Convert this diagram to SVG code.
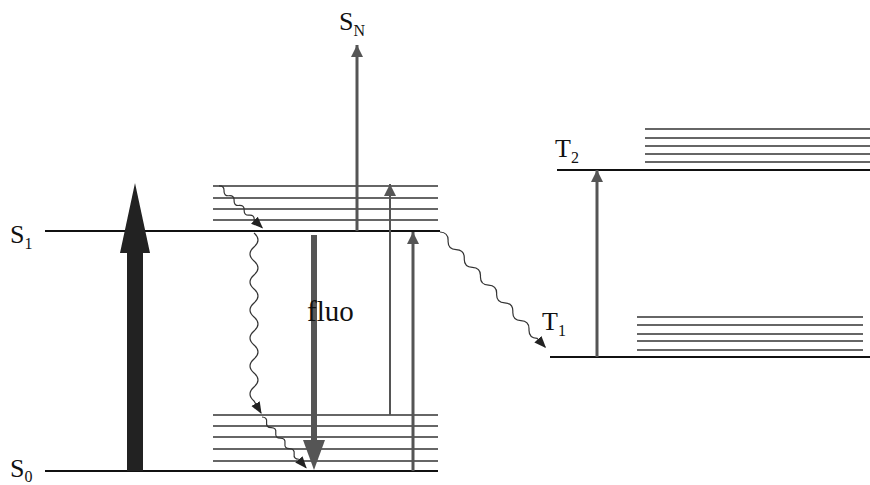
<svg xmlns="http://www.w3.org/2000/svg" width="870" height="485" viewBox="0 0 870 485">
<defs>
<style>
.lvl{stroke:#111;stroke-width:2;fill:none}
.vib{stroke:#333;stroke-width:1.3;fill:none}
.g{stroke:#555;fill:none}
.wave{stroke:#333;stroke-width:1.2;fill:none}
.lab{font-family:"Liberation Serif",serif;font-size:26px;fill:#111}
.sub{font-size:16px}
.fl{font-size:29px}
</style>
<marker id="ah" viewBox="0 0 10 10" refX="9" refY="5" markerWidth="12" markerHeight="12" markerUnits="userSpaceOnUse" orient="auto">
<path d="M0,1 L10,5 L0,9 Z" fill="#222"/>
</marker>
<marker id="gh" viewBox="0 0 10 10" refX="10" refY="5" markerWidth="18" markerHeight="12" markerUnits="userSpaceOnUse" orient="auto">
<path d="M0,0 L10,5 L0,10 Z" fill="#555"/>
</marker>
</defs>
<rect width="870" height="485" fill="#fff"/>
<g id="levels">
<g id="S0"><line class="lvl" x1="45" y1="471" x2="438" y2="471"/>
<line class="vib" x1="213" y1="415" x2="438" y2="415"/>
<line class="vib" x1="213" y1="426" x2="438" y2="426"/>
<line class="vib" x1="213" y1="437" x2="438" y2="437"/>
<line class="vib" x1="213" y1="449" x2="438" y2="449"/>
<line class="vib" x1="213" y1="461" x2="438" y2="461"/>
<text class="lab" x="10" y="477">S<tspan class="sub" dy="5">0</tspan></text></g>
<g id="S1"><line class="lvl" x1="45" y1="231" x2="440" y2="231"/>
<line class="vib" x1="213" y1="186" x2="438" y2="186"/>
<line class="vib" x1="213" y1="198" x2="438" y2="198"/>
<line class="vib" x1="213" y1="209" x2="438" y2="209"/>
<line class="vib" x1="213" y1="220" x2="438" y2="220"/>
<text class="lab" x="10" y="243">S<tspan class="sub" dy="6">1</tspan></text></g>
<g id="SN"><text class="lab" x="339" y="30">S<tspan class="sub" dy="6">N</tspan></text></g>
<g id="T1"><line class="lvl" x1="550" y1="357" x2="870" y2="357"/>
<line class="vib" x1="637" y1="317" x2="863" y2="317"/>
<line class="vib" x1="637" y1="325" x2="863" y2="325"/>
<line class="vib" x1="637" y1="334" x2="863" y2="334"/>
<line class="vib" x1="637" y1="341" x2="863" y2="341"/>
<line class="vib" x1="637" y1="350" x2="863" y2="350"/>
<text class="lab" x="542" y="330">T<tspan class="sub" dy="6">1</tspan></text></g>
<g id="T2"><line class="lvl" x1="557" y1="170" x2="870" y2="170"/>
<line class="vib" x1="645" y1="129" x2="870" y2="129"/>
<line class="vib" x1="645" y1="138" x2="870" y2="138"/>
<line class="vib" x1="645" y1="146" x2="870" y2="146"/>
<line class="vib" x1="645" y1="154" x2="870" y2="154"/>
<line class="vib" x1="645" y1="162" x2="870" y2="162"/>
<text class="lab" x="555" y="157">T<tspan class="sub" dy="6">2</tspan></text></g>
</g>
<g id="connectors">
<g id="excitation"><rect x="127" y="250" width="16" height="221" fill="#222"/><path d="M120,253 L135,183 L150,253 Z" fill="#222"/></g>
<g id="fluo"><line x1="314" y1="235" x2="314" y2="445" stroke="#555" stroke-width="6"/><path d="M303,440 L314,470 L325,440 Z" fill="#555"/>
<text class="lab fl" x="307" y="321">fluo</text></g>
<line class="g" stroke-width="3" x1="357" y1="231" x2="357" y2="45" marker-end="url(#gh)"/>
<line class="g" stroke-width="2" x1="390" y1="415" x2="390" y2="184" marker-end="url(#gh)"/>
<line class="g" stroke-width="3" x1="413" y1="471" x2="413" y2="232" marker-end="url(#gh)"/>
<line class="g" stroke-width="3" x1="597" y1="357" x2="597" y2="170" marker-end="url(#gh)"/>
<path class="wave" d="M254,233 q8,7 0,14 t0,14 t0,14 t0,14 t0,14 t0,14 t0,14 t0,14 t0,14 t0,14 t0,14 t0,14 L261,413" marker-end="url(#ah)"/>
<g transform="translate(219,186) rotate(44)"><path class="wave" d="M0,0 q3.5,-4 7,0 t7,0 t7,0 t7,0 t7,0 t7,0 t7,0 t7,0 L60,0" marker-end="url(#ah)"/></g>
<g transform="translate(262,417) rotate(49)"><path class="wave" d="M0,0 q3.5,-4 7,0 t7,0 t7,0 t7,0 t7,0 t7,0 t7,0 t7,0 t7,0 L67,0" marker-end="url(#ah)"/></g>
<g transform="translate(440,232) rotate(47.6)"><path class="wave" d="M0,0 q6,-6 12,0 t12,0 t12,0 t12,0 t12,0 t12,0 t12,0 t12,0 t12,0 t12,0 t12,0 t12,0 L156,0" marker-end="url(#ah)"/></g>
</g>
</svg>
